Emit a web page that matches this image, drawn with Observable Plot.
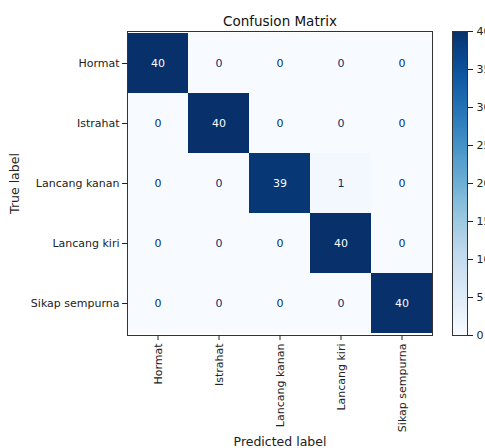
<!DOCTYPE html>
<html>
<head>
<meta charset="utf-8">
<script src="https://cdn.jsdelivr.net/npm/d3@7"></script>
<script src="https://cdn.jsdelivr.net/npm/@observablehq/plot@0.6"></script>
<style>
  html, body { margin: 0; padding: 0; background: #fff; }
  #wrap { position: relative; width: 485px; height: 448px; overflow: hidden; }
  #wrap svg { position: absolute; left: 0; top: 0; }
  #wrap [aria-label="x-axis label"], #wrap [aria-label="y-axis label"] { font-size: 12.5px; }
</style>
</head>
<body>
<div id="wrap"></div>
<script>
const classes = ["Hormat", "Istrahat", "Lancang kanan", "Lancang kiri", "Sikap sempurna"];
// rows = true label, columns = predicted label
const rowHormat = [40, 0, 0, 0, 0];
const rowIstrahat = [0, 40, 0, 0, 0];
const rowLancangKanan = [0, 0, 39, 1, 0];
const rowLancangKiri = [0, 0, 0, 40, 0];
const rowSikapSempurna = [0, 0, 0, 0, 40];
const rows = [rowHormat, rowIstrahat, rowLancangKanan, rowLancangKiri, rowSikapSempurna];
const colorbarTicks = [0, 5, 10, 15, 20, 25, 30, 35, 40];

const cells = [];
rows.forEach((r, i) => r.forEach((v, j) => cells.push({truth: classes[i], pred: classes[j], value: v})));

const W = 485, H = 448;
const font = {fontFamily: "DejaVu Sans, sans-serif", fontSize: "11px", background: "transparent", color: "#222"};
const colorOpts = {type: "linear", scheme: "blues", domain: [0, 40]};

const main = Plot.plot({
  width: W, height: H,
  marginLeft: 127, marginRight: 53, marginTop: 31, marginBottom: 113,
  style: font,
  x: {domain: classes, padding: 0, axis: null},
  y: {domain: classes, padding: 0, axis: null},
  color: colorOpts,
  marks: [
    Plot.cell(cells, {x: "pred", y: "truth", fill: "value", inset: 0, shapeRendering: "crispEdges"}),
    Plot.text(cells, {x: "pred", y: "truth", text: d => String(d.value),
      fill: d => d.value > 20 ? "#f7fbff" : "#08306b", fontSize: 11}),
    Plot.frame({stroke: "#333", strokeWidth: 1}),
    Plot.axisX({anchor: "bottom", tickRotate: -90, tickSize: 5, tickPadding: 3,
      label: "Predicted label", labelAnchor: "center", labelOffset: 110, labelArrow: "none"}),
    Plot.axisY({anchor: "left", tickSize: 5, tickPadding: 3,
      label: "True label", labelAnchor: "center", labelOffset: 117, labelArrow: "none"}),
    Plot.text(["Confusion Matrix"], {frameAnchor: "top", dy: -15, fontSize: 13.5, fill: "#111"})
  ]
});

const steps = d3.range(0, 40, 0.25);
const bar = Plot.plot({
  width: W, height: H,
  marginLeft: 452, marginRight: 18, marginTop: 31, marginBottom: 113,
  style: font,
  x: {domain: [0, 1], axis: null},
  y: {domain: [0, 40], axis: null},
  color: colorOpts,
  marks: [
    Plot.rect(steps, {x1: 0, x2: 1, y1: d => d, y2: d => Math.min(40, d + 0.5), fill: d => d, shapeRendering: "crispEdges"}),
    Plot.frame({stroke: "#333", strokeWidth: 1}),
    Plot.axisY(colorbarTicks, {anchor: "right", tickSize: 5, tickPadding: 4, label: null})
  ]
});

const wrap = document.getElementById("wrap");
wrap.appendChild(main);
wrap.appendChild(bar);
</script>
</body>
</html>
